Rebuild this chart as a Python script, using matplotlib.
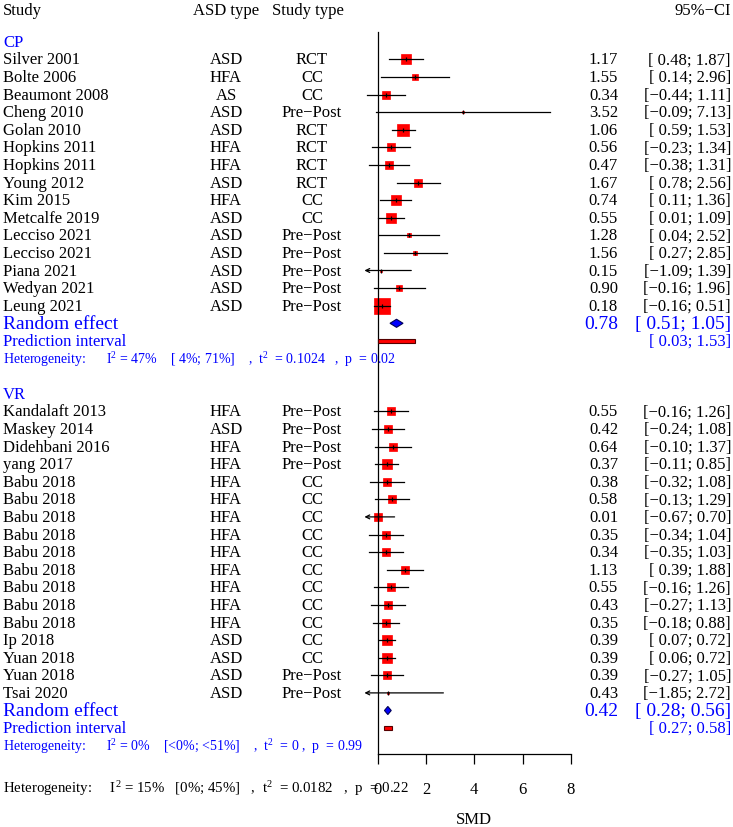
import numpy as np
import matplotlib.pyplot as plt
import matplotlib.transforms as mtransforms
from matplotlib.patches import Polygon, Rectangle

plt.rcParams['font.family'] = 'Liberation Serif'
plt.rcParams['mathtext.fontset'] = 'custom'
plt.rcParams['mathtext.rm'] = 'Liberation Serif'
plt.rcParams['mathtext.it'] = 'Liberation Serif:italic'
plt.rcParams['mathtext.bf'] = 'Liberation Serif:bold'

#CP subgroup
cp_study = ['Silver 2001', 'Bolte 2006', 'Beaumont 2008', 'Cheng 2010', 'Golan 2010',
            'Hopkins 2011', 'Hopkins 2011', 'Young 2012', 'Kim 2015', 'Metcalfe 2019',
            'Lecciso 2021', 'Lecciso 2021', 'Piana 2021', 'Wedyan 2021', 'Leung 2021']
cp_asd = ['ASD', 'HFA', 'AS', 'ASD', 'ASD', 'HFA', 'HFA', 'ASD', 'HFA', 'ASD',
          'ASD', 'ASD', 'ASD', 'ASD', 'ASD']
cp_type = ['RCT', 'CC', 'CC', 'Pre−Post', 'RCT', 'RCT', 'RCT', 'RCT', 'CC', 'CC',
           'Pre−Post', 'Pre−Post', 'Pre−Post', 'Pre−Post', 'Pre−Post']
cp_smd = [1.17, 1.55, 0.34, 3.52, 1.06, 0.56, 0.47, 1.67, 0.74, 0.55, 1.28, 1.56, 0.15, 0.90, 0.18]
cp_lo = [0.48, 0.14, -0.44, -0.09, 0.59, -0.23, -0.38, 0.78, 0.11, 0.01, 0.04, 0.27, -1.09, -0.16, -0.16]
cp_hi = [1.87, 2.96, 1.11, 7.13, 1.53, 1.34, 1.31, 2.56, 1.36, 1.09, 2.52, 2.85, 1.39, 1.96, 0.51]
cp_w = [4.0, 1.5, 3.1, 0.2, 7.0, 3.1, 3.1, 3.1, 4.0, 4.9, 1.2, 1.2, 0.4, 1.8, 12.5]
cp_random = [0.78, 0.51, 1.05]
cp_pred = [0.03, 1.53]
cp_het = 'Heterogeneity:      I$^2$ = 47%    [ 4%; 71%]    ,  t$^2$  = 0.1024   ,  p  = 0.02'

#VR subgroup
vr_study = ['Kandalaft 2013', 'Maskey 2014', 'Didehbani 2016', 'yang 2017'] + ['Babu 2018'] * 9 + \
           ['Ip 2018', 'Yuan 2018', 'Yuan 2018', 'Tsai 2020']
vr_asd = ['HFA', 'ASD', 'HFA', 'HFA'] + ['HFA'] * 9 + ['ASD', 'ASD', 'ASD', 'ASD']
vr_type = ['Pre−Post'] * 4 + ['CC'] * 9 + ['CC', 'CC', 'Pre−Post', 'Pre−Post']
vr_smd = [0.55, 0.42, 0.64, 0.37, 0.38, 0.58, 0.01, 0.35, 0.34, 1.13, 0.55, 0.43, 0.35, 0.39, 0.39, 0.39, 0.43]
vr_lo = [-0.16, -0.24, -0.10, -0.11, -0.32, -0.13, -0.67, -0.34, -0.35, 0.39, -0.16, -0.27, -0.18, 0.07, 0.06, -0.27, -1.85]
vr_hi = [1.26, 1.08, 1.37, 0.85, 1.08, 1.29, 0.70, 1.04, 1.03, 1.88, 1.26, 1.13, 0.88, 0.72, 0.72, 1.05, 2.72]
vr_w = [2.4, 3.1, 2.4, 4.4, 2.4, 2.4, 3.1, 2.7, 2.4, 2.4, 2.4, 2.4, 3.1, 4.9, 4.9, 2.4, 0.2]
vr_random = [0.42, 0.28, 0.56]
vr_pred = [0.27, 0.58]
vr_het = 'Heterogeneity:      I$^2$ = 0%    [<0%; <51%]    ,  t$^2$  = 0 ,  p  = 0.99'

overall_het = 'Heterogeneity:     I$^2$ = 15%   [0%; 45%]   ,  t$^2$  = 0.0182   ,  p  = 0.22'
xticks = [0, 2, 4, 6, 8]
xmin = -0.55   #left clip of the forest region

blue = '#0000ff'

def fmt(v):
    return ('%.2f' % v).replace('-', '−')

def ci_text(lo, hi):
    pad = ' ' if lo >= 0 else ''
    return '[' + pad + fmt(lo) + '; ' + fmt(hi) + ']'

fig = plt.figure(figsize=(7.33, 8.28), dpi=100)
ax = fig.add_axes([0, 0, 1, 1])
ax.patch.set_alpha(0)
#pixel mapping: x 0 -> 377.7px, 24.15px per unit; row r -> 42.7 + 17.6 r px
ax.set_xlim(-377.7 / 24.15, (733 - 377.7) / 24.15)
ax.set_ylim((828 - 42.7) / 17.6, -42.7 / 17.6)

tr = mtransforms.blended_transform_factory(fig.transFigure, ax.transData)
def px(x):
    return x / 733.0

x_study, x_asd, x_type, x_est, x_ci = px(3), px(226), px(312), px(618), px(731)

#header
hy = -1.8
ax.text(x_study, hy, 'Study', transform=tr, ha='left', va='center', fontsize=12)
ax.text(x_asd, hy, 'ASD type', transform=tr, ha='center', va='center', fontsize=12)
ax.text(px(308), hy, 'Study type', transform=tr, ha='center', va='center', fontsize=12)
ax.text(x_ci, hy, '95%−CI', transform=tr, ha='right', va='center', fontsize=12)

def draw_group(start, name, study, asd, stype, smd, lo, hi, w, random, pred, het):
    ax.text(x_study, start, name, transform=tr, ha='left', va='center', fontsize=12, color=blue)
    for i in range(len(study)):
        y = start + 1 + i
        ax.text(x_study, y, study[i], transform=tr, ha='left', va='center', fontsize=12)
        ax.text(x_asd, y, asd[i], transform=tr, ha='center', va='center', fontsize=12)
        ax.text(x_type, y, stype[i], transform=tr, ha='center', va='center', fontsize=12)
        ax.text(x_est, y, fmt(smd[i]), transform=tr, ha='right', va='center', fontsize=12)
        ax.text(x_ci, y, ci_text(lo[i], hi[i]), transform=tr, ha='right', va='center', fontsize=12)
        #square area ~ weight
        ms = 4.53 * np.sqrt(w[i]) * 0.72
        ax.plot(smd[i], y, 's', ms=ms, color='red', mec='red', mew=0.5, zorder=2)
        if lo[i] < xmin:
            ax.annotate('', xy=(xmin, y), xytext=(hi[i], y),
                        arrowprops=dict(arrowstyle='->', color='black', lw=0.9,
                                        shrinkA=0, shrinkB=0, mutation_scale=7), zorder=3)
        else:
            ax.plot([lo[i], hi[i]], [y, y], color='black', lw=0.9, zorder=3)
        ax.plot(smd[i], y, '|', ms=3, color='black', mew=0.9, zorder=4)
    n = len(study)
    yr = start + n + 1
    est, rlo, rhi = random
    ax.text(x_study, yr, 'Random effect', transform=tr, ha='left', va='center', fontsize=14, color=blue)
    ax.text(x_est, yr, fmt(est), transform=tr, ha='right', va='center', fontsize=14, color=blue)
    ax.text(x_ci, yr, ci_text(rlo, rhi), transform=tr, ha='right', va='center', fontsize=14, color=blue)
    h = 0.23
    ax.add_patch(Polygon([(rlo, yr), (est, yr - h), (rhi, yr), (est, yr + h)],
                         closed=True, fc=blue, ec='#000055', lw=0.8, zorder=3))
    yp = yr + 1
    ax.text(x_study, yp, 'Prediction interval', transform=tr, ha='left', va='center', fontsize=12, color=blue)
    ax.text(x_ci, yp, ci_text(pred[0], pred[1]), transform=tr, ha='right', va='center', fontsize=12, color=blue)
    ax.add_patch(Rectangle((pred[0], yp - 0.11), pred[1] - pred[0], 0.22,
                           fc='red', ec='#550000', lw=0.8, zorder=3))
    ax.text(x_study, yp + 1, het, transform=tr, ha='left', va='center', fontsize=10, color=blue)

draw_group(0, 'CP', cp_study, cp_asd, cp_type, cp_smd, cp_lo, cp_hi, cp_w, cp_random, cp_pred, cp_het)
draw_group(20, 'VR', vr_study, vr_asd, vr_type, vr_smd, vr_lo, vr_hi, vr_w, vr_random, vr_pred, vr_het)

ax.text(x_study, 42.35, overall_het, transform=tr, ha='left', va='center', fontsize=10.7)

#axes lines
ybot = 40.47
for s in ['top', 'right']:
    ax.spines[s].set_visible(False)
ax.spines['left'].set_position(('data', 0))
ax.spines['left'].set_bounds(-0.55, ybot)
ax.spines['bottom'].set_position(('data', ybot))
ax.spines['bottom'].set_bounds(0, 8)
ax.spines['left'].set_linewidth(0.9)
ax.spines['bottom'].set_linewidth(0.9)
ax.set_yticks([])
ax.set_xticks(xticks)
ax.set_xticklabels([str(t) for t in xticks])
ax.tick_params(axis='x', direction='out', length=7.5, width=0.9, pad=12, labelsize=12)
ax.text(4, 44.15, 'SMD', ha='center', va='center', fontsize=12)

fig.savefig('out.png', dpi=100)
